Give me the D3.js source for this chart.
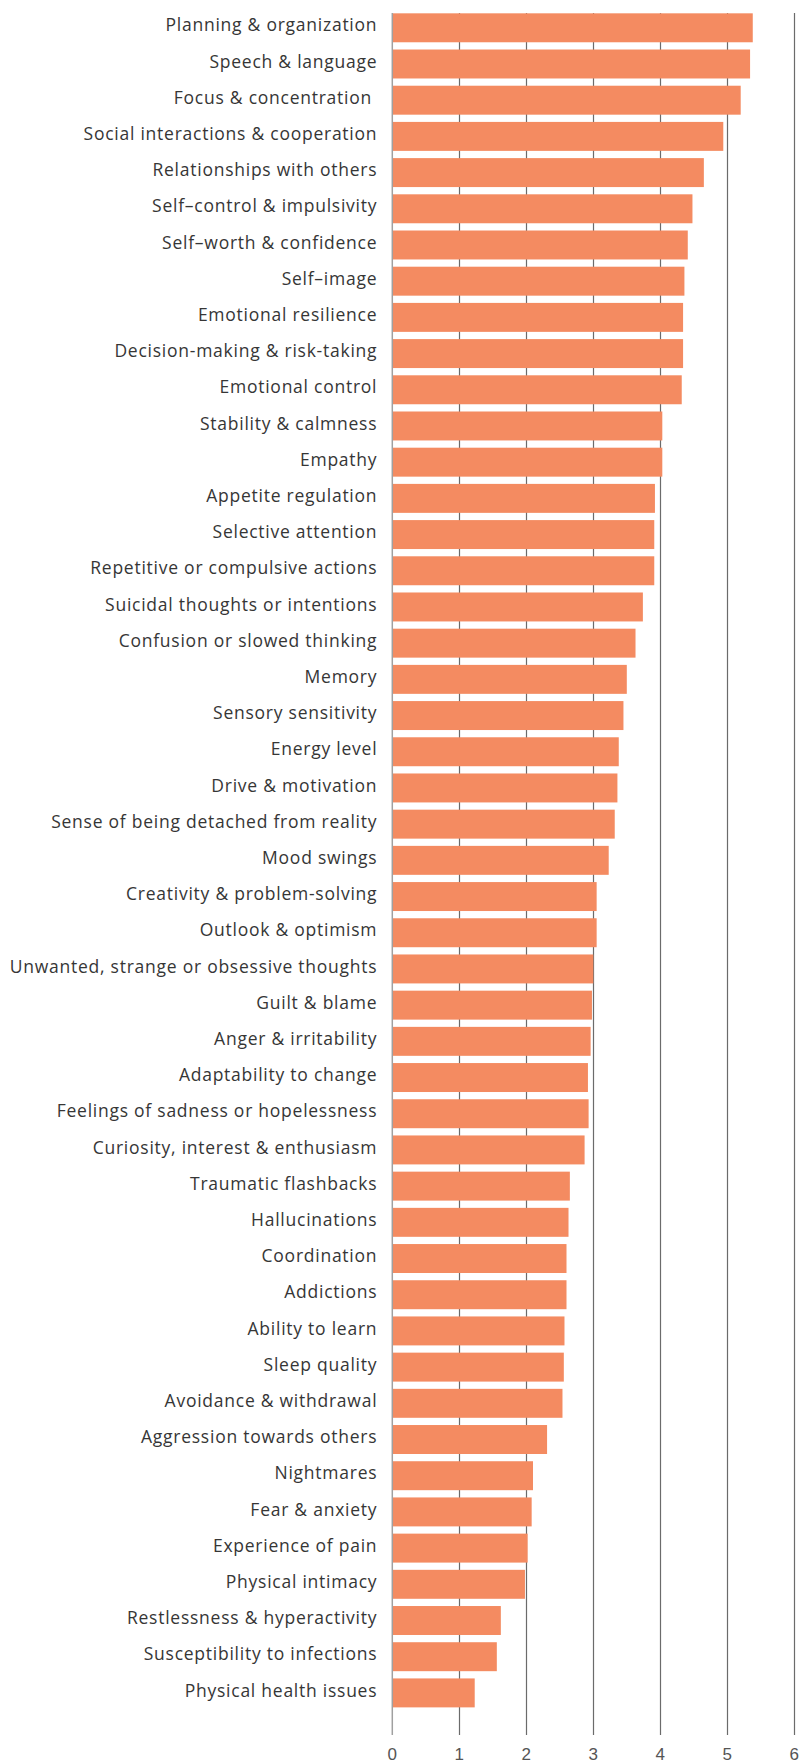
<!DOCTYPE html>
<html>
<head>
<meta charset="utf-8">
<title>Symptom improvement</title>
<script src="https://cdnjs.cloudflare.com/ajax/libs/d3/7.8.5/d3.min.js"></script>
<style>
  body { margin: 0; background: #fff; }
  svg { display: block; }
  .label { font-family: "Open Sans", sans-serif; font-size: 17.5px; letter-spacing: 0.75px; fill: #363636; white-space: pre; }
  .tick-label { font-family: "Liberation Sans", Arial, sans-serif; font-size: 17px; fill: #555; }
</style>
</head>
<body>
<div id="chart"></div>
<script>
// categories, top to bottom
var categories = [
  "Planning & organization", "Speech & language", "Focus & concentration ",
  "Social interactions & cooperation", "Relationships with others",
  "Self\u2013control & impulsivity", "Self\u2013worth & confidence", "Self\u2013image",
  "Emotional resilience", "Decision-making & risk-taking", "Emotional control",
  "Stability & calmness", "Empathy", "Appetite regulation", "Selective attention",
  "Repetitive or compulsive actions", "Suicidal thoughts or intentions",
  "Confusion or slowed thinking", "Memory", "Sensory sensitivity", "Energy level",
  "Drive & motivation", "Sense of being detached from reality", "Mood swings",
  "Creativity & problem-solving", "Outlook & optimism",
  "Unwanted, strange or obsessive thoughts", "Guilt & blame", "Anger & irritability",
  "Adaptability to change", "Feelings of sadness or hopelessness",
  "Curiosity, interest & enthusiasm", "Traumatic flashbacks", "Hallucinations",
  "Coordination", "Addictions", "Ability to learn", "Sleep quality",
  "Avoidance & withdrawal", "Aggression towards others", "Nightmares",
  "Fear & anxiety", "Experience of pain", "Physical intimacy",
  "Restlessness & hyperactivity", "Susceptibility to infections",
  "Physical health issues"
];

var values = [
  5.38, 5.34, 5.20, 4.94, 4.65, 4.48, 4.41, 4.36, 4.34, 4.34, 4.32,
  4.03, 4.03, 3.92, 3.91, 3.91, 3.74, 3.63, 3.50, 3.45, 3.38, 3.36,
  3.32, 3.23, 3.05, 3.05, 3.00, 2.98, 2.96, 2.92, 2.93, 2.87, 2.65,
  2.63, 2.60, 2.60, 2.57, 2.56, 2.54, 2.31, 2.10, 2.08, 2.02, 1.98,
  1.62, 1.56, 1.23
];

var xTicks = [0, 1, 2, 3, 4, 5, 6];

var data = categories.map(function(c, i){ return {name: c, value: values[i]}; });

var width = 801, height = 1763;
var x0 = 392.3, x1 = 794.3;

var svg = d3.select('#chart').append('svg')
    .attr('width', width)
    .attr('height', height);

var x = d3.scaleLinear().domain([0, 6]).range([x0, x1]);
var y = d3.scaleBand().domain(categories).range([9.7, 1711])
    .paddingInner(0.2).paddingOuter(0.1);

// gridlines (drawn under the bars)
svg.append('g').selectAll('line')
    .data(xTicks.filter(function(t){ return t > 0; }))
    .enter().append('line')
    .attr('x1', function(d){ return Math.round(x(d)) + 0.5; })
    .attr('x2', function(d){ return Math.round(x(d)) + 0.5; })
    .attr('y1', 13)
    .attr('y2', 1735)
    .attr('stroke', '#6b6b6b')
    .attr('stroke-width', 1.2);

// bars
svg.append('g').selectAll('rect')
    .data(data)
    .enter().append('rect')
    .attr('x', x(0))
    .attr('y', function(d){ return y(d.name); })
    .attr('width', function(d){ return x(d.value) - x(0); })
    .attr('height', y.bandwidth())
    .attr('fill', '#f48b61');

// zero axis line
svg.append('line')
    .attr('x1', x(0)).attr('x2', x(0))
    .attr('y1', 13).attr('y2', 1735)
    .attr('stroke', '#a0a0a0')
    .attr('stroke-width', 1.5);

// category labels
svg.append('g').selectAll('text')
    .data(data)
    .enter().append('text')
    .attr('class', 'label')
    .attr('x', x(0) - 15)
    .attr('y', function(d){ return y(d.name) + y.bandwidth() / 2 - 2.5; })
    .attr('dy', '0.35em')
    .attr('text-anchor', 'end')
    .text(function(d){ return d.name; });

// tick labels
svg.append('g').selectAll('text')
    .data(xTicks)
    .enter().append('text')
    .attr('class', 'tick-label')
    .attr('x', function(d){ return x(d); })
    .attr('y', 1754)
    .attr('dy', '0.35em')
    .attr('text-anchor', 'middle')
    .text(function(d){ return d; });
</script>
</body>
</html>
